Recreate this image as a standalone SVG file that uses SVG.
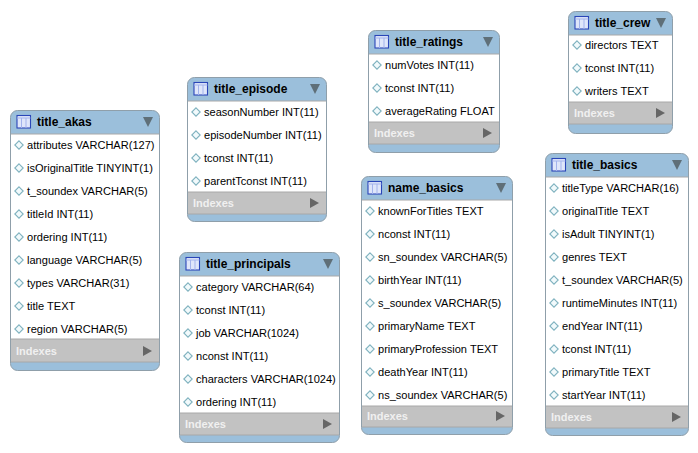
<svg xmlns="http://www.w3.org/2000/svg" width="698" height="453" viewBox="0 0 698 453">
<style>
text{font-family:"Liberation Sans",Arial,sans-serif;font-size:11.05px;fill:#000}
.box{fill:#9bbfdb;stroke:#8f9faa;stroke-width:1}
.body{fill:#fff}
.idx{fill:#c2c2c2}
.sep{stroke:#a8a8a8;stroke-width:1;fill:none}
.title{font-weight:bold;font-size:12px}
.ix{font-weight:bold;font-size:11px;fill:#f0f0f0}
.tri{fill:#5f6f78}
.tr2{fill:#666}
</style>
<defs>
<g id="tableicon">
<rect x="0" y="0" width="13.5" height="12.5" fill="#dfe6fa" stroke="#2a46b8" stroke-width="1.1"/>
<path d="M0 2.5H13.5M4.5 2.5V12.5M9 2.5V12.5" stroke="#a3b3ec" stroke-width="1" fill="none"/>
</g>
<path id="dia" d="M0 -4.2L4.2 0L0 4.2L-4.2 0Z" fill="#f2fafc" stroke="#7fb2bf" stroke-width="1.1"/>
</defs>
<g id="connectors"/>
<g id="title_akas">
<rect class="box" x="10.5" y="110.5" width="149" height="260" rx="7"/>
<rect class="body" x="11" y="134" width="148" height="205"/>
<rect class="idx" x="11" y="339" width="148" height="23"/>
<path class="sep" d="M11 339H159M11 362H159M11 134H159"/>
<use href="#tableicon" x="17" y="115.5"/>
<text class="title" x="37" y="126">title_akas</text>
<path class="tri" d="M143 117H153L148 127Z"/>
<use href="#dia" x="19" y="145"/><text x="27" y="149">attributes VARCHAR(127)</text>
<use href="#dia" x="19" y="168"/><text x="27" y="172">isOriginalTitle TINYINT(1)</text>
<use href="#dia" x="19" y="191"/><text x="27" y="195">t_soundex VARCHAR(5)</text>
<use href="#dia" x="19" y="214"/><text x="27" y="218">titleId INT(11)</text>
<use href="#dia" x="19" y="237"/><text x="27" y="241">ordering INT(11)</text>
<use href="#dia" x="19" y="260"/><text x="27" y="264">language VARCHAR(5)</text>
<use href="#dia" x="19" y="283"/><text x="27" y="287">types VARCHAR(31)</text>
<use href="#dia" x="19" y="306"/><text x="27" y="310">title TEXT</text>
<use href="#dia" x="19" y="329"/><text x="27" y="333">region VARCHAR(5)</text>
<text class="ix" x="16" y="355">Indexes</text>
<path class="tr2" d="M143 346L152 351L143 356Z"/>
</g>
<g id="title_episode">
<rect class="box" x="187.5" y="77.5" width="139" height="144" rx="7"/>
<rect class="body" x="188" y="101" width="138" height="91"/>
<rect class="idx" x="188" y="192" width="138" height="22"/>
<path class="sep" d="M188 192H326M188 214H326M188 101H326"/>
<use href="#tableicon" x="194" y="82.5"/>
<text class="title" x="214" y="93">title_episode</text>
<path class="tri" d="M310 84H320L315 94Z"/>
<use href="#dia" x="196" y="112"/><text x="204" y="116">seasonNumber INT(11)</text>
<use href="#dia" x="196" y="135"/><text x="204" y="139">episodeNumber INT(11)</text>
<use href="#dia" x="196" y="158"/><text x="204" y="162">tconst INT(11)</text>
<use href="#dia" x="196" y="181"/><text x="204" y="185">parentTconst INT(11)</text>
<text class="ix" x="193" y="207">Indexes</text>
<path class="tr2" d="M310 198L319 203L310 208Z"/>
</g>
<g id="title_principals">
<rect class="box" x="179.5" y="252.5" width="160" height="190" rx="7"/>
<rect class="body" x="180" y="276" width="159" height="137"/>
<rect class="idx" x="180" y="413" width="159" height="22"/>
<path class="sep" d="M180 413H339M180 435H339M180 276H339"/>
<use href="#tableicon" x="186" y="257.5"/>
<text class="title" x="206" y="268">title_principals</text>
<path class="tri" d="M323 259H333L328 269Z"/>
<use href="#dia" x="188" y="287"/><text x="196" y="291">category VARCHAR(64)</text>
<use href="#dia" x="188" y="310"/><text x="196" y="314">tconst INT(11)</text>
<use href="#dia" x="188" y="333"/><text x="196" y="337">job VARCHAR(1024)</text>
<use href="#dia" x="188" y="356"/><text x="196" y="360">nconst INT(11)</text>
<use href="#dia" x="188" y="379"/><text x="196" y="383">characters VARCHAR(1024)</text>
<use href="#dia" x="188" y="402"/><text x="196" y="406">ordering INT(11)</text>
<text class="ix" x="185" y="428">Indexes</text>
<path class="tr2" d="M323 419L332 424L323 429Z"/>
</g>
<g id="title_ratings">
<rect class="box" x="368.5" y="30.5" width="131" height="122" rx="7"/>
<rect class="body" x="369" y="54" width="130" height="68"/>
<rect class="idx" x="369" y="122" width="130" height="22"/>
<path class="sep" d="M369 122H499M369 144H499M369 54H499"/>
<use href="#tableicon" x="375" y="35.5"/>
<text class="title" x="395" y="46">title_ratings</text>
<path class="tri" d="M483 37H493L488 47Z"/>
<use href="#dia" x="377" y="65"/><text x="385" y="69">numVotes INT(11)</text>
<use href="#dia" x="377" y="88"/><text x="385" y="92">tconst INT(11)</text>
<use href="#dia" x="377" y="111"/><text x="385" y="115">averageRating FLOAT</text>
<text class="ix" x="374" y="137">Indexes</text>
<path class="tr2" d="M483 128L492 133L483 138Z"/>
</g>
<g id="title_crew">
<rect class="box" x="568.5" y="11.5" width="104" height="122" rx="7"/>
<rect class="body" x="569" y="35" width="103" height="67"/>
<rect class="idx" x="569" y="102" width="103" height="22"/>
<path class="sep" d="M569 102H672M569 124H672M569 35H672"/>
<use href="#tableicon" x="575" y="16.5"/>
<text class="title" x="595" y="27">title_crew</text>
<path class="tri" d="M656 18H666L661 28Z"/>
<use href="#dia" x="577" y="45"/><text x="585" y="49">directors TEXT</text>
<use href="#dia" x="577" y="68"/><text x="585" y="72">tconst INT(11)</text>
<use href="#dia" x="577" y="91"/><text x="585" y="95">writers TEXT</text>
<text class="ix" x="574" y="117">Indexes</text>
<path class="tr2" d="M656 108L665 113L656 118Z"/>
</g>
<g id="name_basics">
<rect class="box" x="361.5" y="176.5" width="151" height="258" rx="7"/>
<rect class="body" x="362" y="200" width="150" height="206"/>
<rect class="idx" x="362" y="406" width="150" height="21"/>
<path class="sep" d="M362 406H512M362 427H512M362 200H512"/>
<use href="#tableicon" x="368" y="181.5"/>
<text class="title" x="388" y="192">name_basics</text>
<path class="tri" d="M496 183H506L501 193Z"/>
<use href="#dia" x="370" y="211"/><text x="378" y="215">knownForTitles TEXT</text>
<use href="#dia" x="370" y="234"/><text x="378" y="238">nconst INT(11)</text>
<use href="#dia" x="370" y="257"/><text x="378" y="261">sn_soundex VARCHAR(5)</text>
<use href="#dia" x="370" y="280"/><text x="378" y="284">birthYear INT(11)</text>
<use href="#dia" x="370" y="303"/><text x="378" y="307">s_soundex VARCHAR(5)</text>
<use href="#dia" x="370" y="326"/><text x="378" y="330">primaryName TEXT</text>
<use href="#dia" x="370" y="349"/><text x="378" y="353">primaryProfession TEXT</text>
<use href="#dia" x="370" y="372"/><text x="378" y="376">deathYear INT(11)</text>
<use href="#dia" x="370" y="395"/><text x="378" y="399">ns_soundex VARCHAR(5)</text>
<text class="ix" x="367" y="420">Indexes</text>
<path class="tr2" d="M496 411L505 416L496 421Z"/>
</g>
<g id="title_basics">
<rect class="box" x="545.5" y="153.5" width="143" height="282" rx="7"/>
<rect class="body" x="546" y="177" width="142" height="229"/>
<rect class="idx" x="546" y="406" width="142" height="22"/>
<path class="sep" d="M546 406H688M546 428H688M546 177H688"/>
<use href="#tableicon" x="552" y="158.5"/>
<text class="title" x="572" y="169">title_basics</text>
<path class="tri" d="M672 160H682L677 170Z"/>
<use href="#dia" x="554" y="188"/><text x="562" y="192">titleType VARCHAR(16)</text>
<use href="#dia" x="554" y="211"/><text x="562" y="215">originalTitle TEXT</text>
<use href="#dia" x="554" y="234"/><text x="562" y="238">isAdult TINYINT(1)</text>
<use href="#dia" x="554" y="257"/><text x="562" y="261">genres TEXT</text>
<use href="#dia" x="554" y="280"/><text x="562" y="284">t_soundex VARCHAR(5)</text>
<use href="#dia" x="554" y="303"/><text x="562" y="307">runtimeMinutes INT(11)</text>
<use href="#dia" x="554" y="326"/><text x="562" y="330">endYear INT(11)</text>
<use href="#dia" x="554" y="349"/><text x="562" y="353">tconst INT(11)</text>
<use href="#dia" x="554" y="372"/><text x="562" y="376">primaryTitle TEXT</text>
<use href="#dia" x="554" y="395"/><text x="562" y="399">startYear INT(11)</text>
<text class="ix" x="551" y="421">Indexes</text>
<path class="tr2" d="M672 412L681 417L672 422Z"/>
</g>
</svg>
